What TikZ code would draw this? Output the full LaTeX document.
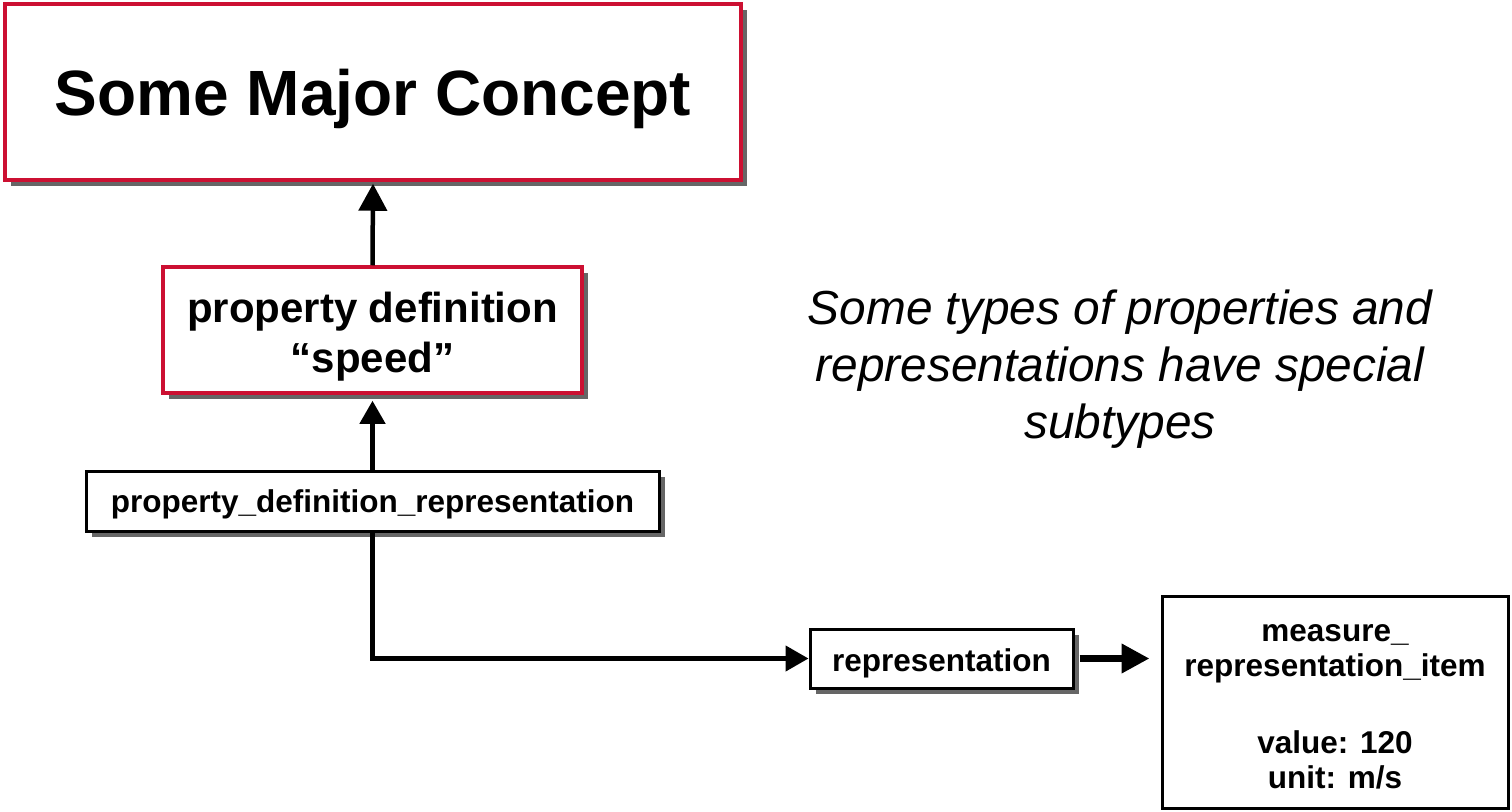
\documentclass[tikz,border=0pt]{standalone}
\usepackage{fontspec}
\setmainfont{Liberation Sans}
\usetikzlibrary{arrows.meta,shadows}
\definecolor{conceptred}{HTML}{CC1032}
\definecolor{shadowgray}{HTML}{666666}
\tikzset{
  boxshadow/.style={drop shadow={shadow xshift=6pt,shadow yshift=-6pt,fill=shadowgray,opacity=1}},
  redbox/.style={draw=conceptred,line width=3.5pt,fill=white,boxshadow,inner sep=0pt,align=center},
  blackbox/.style={draw=black,line width=3pt,fill=white,boxshadow,inner sep=0pt,align=center},
  plainbox/.style={draw=black,line width=3pt,fill=white,inner sep=0pt,align=center},
  conn/.style={draw=black,line width=4.5pt},
  bigtip/.style={-{Triangle[length=27pt,width=28pt]}},
  smalltip/.style={-{Triangle[length=23pt,width=25pt]}},
  smallfont/.style={font=\bfseries\fontsize{31.5}{35}\selectfont}
}
\begin{document}
\begin{tikzpicture}[x=1pt,y=-1pt]
  \useasboundingbox (0,0) rectangle (1512,811);

  % concept boxes
  \node[redbox,minimum width=736pt,minimum height=176pt,text height=46pt,text depth=0pt,
        font=\bfseries\fontsize{64}{70}\selectfont] (major) at (373,92) {Some Major Concept};
  \node[redbox,minimum width=419pt,minimum height=126pt,text height=84pt,text depth=0pt,
        font=\bfseries\fontsize{42}{50}\selectfont] (propdef) at (372.5,330)
        {property definition\\“speed”};

  % entity boxes
  \node[blackbox,smallfont,minimum width=573pt,minimum height=60pt,text height=22pt,text depth=0pt]
        (pdr) at (372.5,501) {property\_definition\_representation};
  \node[blackbox,smallfont,minimum width=263pt,minimum height=59pt,text height=26.4pt,text depth=0pt]
        (rep) at (941.5,658.5) {representation};
  \node[plainbox,smallfont,minimum width=346pt,minimum height=212pt,text height=172pt,text depth=0pt]
        (meas) at (1335,702)
        {measure\_\\representation\_item\\[42pt]value: 120\\unit: m/s};

  % note
  \node[font=\itshape\fontsize{47.8}{57}\selectfont,align=center,text height=140pt,text depth=0pt]
        (note) at (1120,368)
        {Some types of properties and\\representations have special\\subtypes};

  % connectors
  \draw[conn,bigtip] (propdef.north) -- ([yshift=-2pt]major.south);
  \draw[conn,smalltip] (pdr.north) -- ([yshift=-6pt]propdef.south);
  \draw[conn,smalltip] (pdr.south) |- (rep.west);
  \draw[draw=black,line width=7pt,-{Triangle[length=28pt,width=28pt]},shorten <=5pt,shorten >=11pt]
        (rep.east) -- (rep.east -| meas.west);
\end{tikzpicture}
\end{document}
